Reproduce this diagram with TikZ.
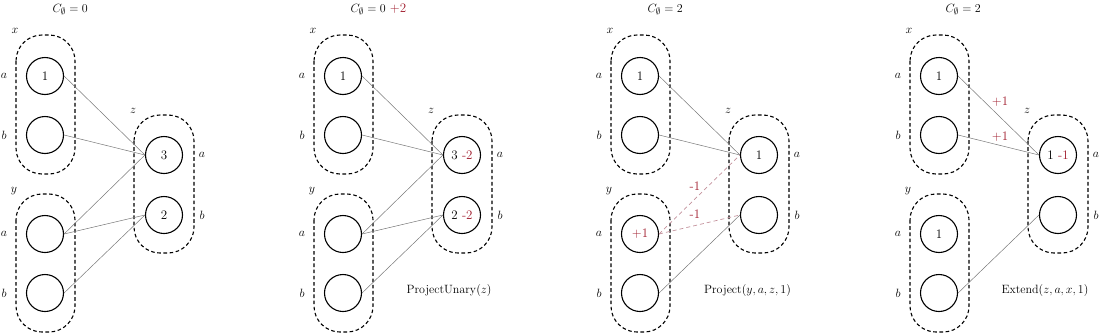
\documentclass[tikz,border=0pt]{standalone}
\definecolor{myred}{RGB}{160,28,45}
\definecolor{edgegray}{RGB}{120,120,120}
\definecolor{negcol}{RGB}{195,145,155}
\begin{document}
\begin{tikzpicture}[x=1pt,y=-1pt,
  font=\fontsize{13}{15.5}\selectfont,
  var/.style={circle,draw,line width=1.1pt,minimum size=37pt,inner sep=0pt},
  grp/.style={draw,line width=1.1pt,dash pattern=on 3.6pt off 2.6pt,rounded corners=26pt},
  edge/.style={draw=edgegray,line width=0.5pt},
  negedge/.style={draw=negcol,line width=0.7pt,dash pattern=on 4pt off 3pt},
  rd/.style={text=myred},
  lbl/.style={inner sep=0pt},
]
\useasboundingbox (0,0) rectangle (1100,335);

% groups and labels, common to all panels
\foreach \o [count=\p] in {0,298,595,894} {
  \draw[grp] (\o+16,35) rectangle (\o+75,174);
  \draw[grp] (\o+16,194) rectangle (\o+75,332);
  \draw[grp] (\o+134,115) rectangle (\o+194,253);
  \node[lbl] (lx\p) at (\o+15,31) {$x$};
  \node[lbl] (ly\p) at (\o+14,191) {$y$};
  \node[lbl] (lz\p) at (\o+133,111) {$z$};
  \node[lbl] (lxa\p) at (\o+4,76) {$a$};
  \node[lbl] (lxb\p) at (\o+4,135) {$b$};
  \node[lbl] (lya\p) at (\o+4,234) {$a$};
  \node[lbl] (lyb\p) at (\o+4,293) {$b$};
  \node[lbl] (lza\p) at (\o+202,155) {$a$};
  \node[lbl] (lzb\p) at (\o+202,215) {$b$};
}

% ---------- panel 1
\node[anchor=base west] (t1) at (49,12) {$C_\emptyset = 0$};
\node[var] (xa1) at (45,76) {1};
\node[var] (xb1) at (45,135) {};
\node[var] (ya1) at (45,234) {};
\node[var] (yb1) at (45,293) {};
\node[var] (za1) at (164,155) {3};
\node[var] (zb1) at (164,215) {2};
\draw[edge] (xa1.east) -- (za1.west);
\draw[edge] (xb1.east) -- (za1.west);
\draw[edge] (ya1.east) -- (za1.west);
\draw[edge] (ya1.east) -- (zb1.west);
\draw[edge] (yb1.east) -- (zb1.west);

% ---------- panel 2
\node[anchor=base west] (t2) at (347,12) {$C_\emptyset = 0$ \textcolor{myred}{+2}};
\node[var] (xa2) at (343,76) {1};
\node[var] (xb2) at (343,135) {};
\node[var] (ya2) at (343,234) {};
\node[var] (yb2) at (343,293) {};
\node[var] (za2) at (462,155) {3 \textcolor{myred}{-2}};
\node[var] (zb2) at (462,215) {2 \textcolor{myred}{-2}};
\draw[edge] (xa2.east) -- (za2.west);
\draw[edge] (xb2.east) -- (za2.west);
\draw[edge] (ya2.east) -- (za2.west);
\draw[edge] (ya2.east) -- (zb2.west);
\draw[edge] (yb2.east) -- (zb2.west);
\node (op2) at (449,290) {$\mathrm{ProjectUnary}(z)$};

% ---------- panel 3
\node[anchor=base west] (t3) at (644,12) {$C_\emptyset = 2$};
\node[var] (xa3) at (640,76) {1};
\node[var] (xb3) at (640,135) {};
\node[var] (ya3) at (640,234) {\textcolor{myred}{+1}};
\node[var] (yb3) at (640,293) {};
\node[var] (za3) at (759,155) {1};
\node[var] (zb3) at (759,215) {};
\draw[edge] (xa3.east) -- (za3.west);
\draw[edge] (xb3.east) -- (za3.west);
\draw[negedge] (ya3.east) -- (za3.west);
\draw[negedge] (ya3.east) -- (zb3.west);
\draw[edge] (yb3.east) -- (zb3.west);
\node[rd,lbl] (m31) at (695,186) {-1};
\node[rd,lbl] (m32) at (695,214.5) {-1};
\node (op3) at (747.5,290) {$\mathrm{Project}(y,a,z,1)$};

% ---------- panel 4
\node[anchor=base west] (t4) at (942,12) {$C_\emptyset = 2$};
\node[var] (xa4) at (939,76) {1};
\node[var] (xb4) at (939,135) {};
\node[var] (ya4) at (939,234) {1};
\node[var] (yb4) at (939,293) {};
\node[var] (za4) at (1058,155) {1 \textcolor{myred}{-1}};
\node[var] (zb4) at (1058,215) {};
\draw[edge] (xa4.east) -- (za4.west);
\draw[edge] (xb4.east) -- (za4.west);
\draw[edge] (yb4.east) -- (zb4.west);
\node[rd,lbl] (m41) at (1000,102) {+1};
\node[rd,lbl] (m42) at (1000,137) {+1};
\node (op4) at (1045,290) {$\mathrm{Extend}(z,a,x,1)$};
\end{tikzpicture}
\end{document}
